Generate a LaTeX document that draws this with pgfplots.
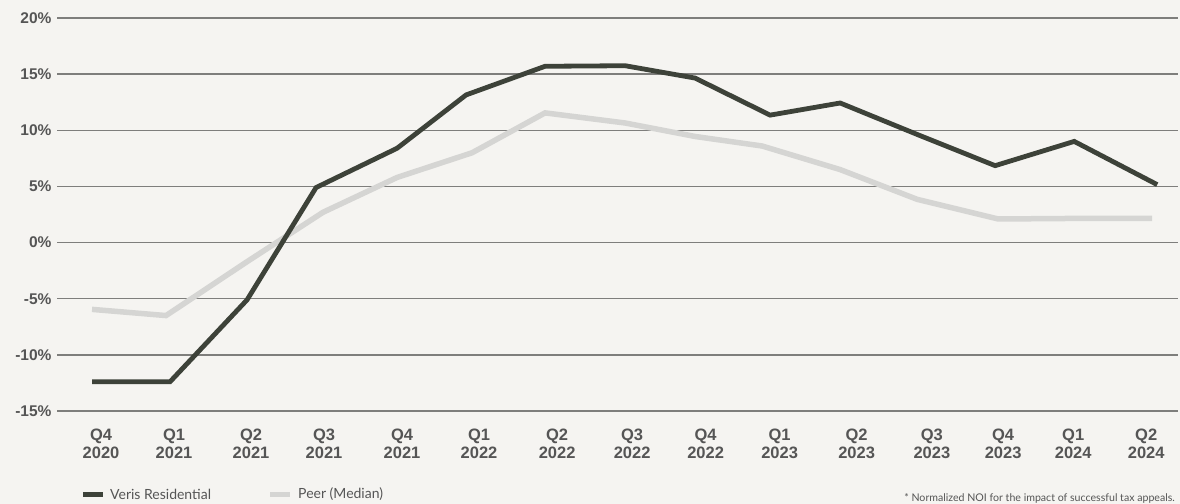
\documentclass[border=0pt]{standalone}
\usepackage{pgfplots}
\pgfplotsset{compat=1.18}
\usepackage{fontspec}
\setmainfont{Lato}
\newfontfamily\tickfont{Liberation Sans}
\definecolor{bg}{HTML}{F5F4F1}
\definecolor{veris}{HTML}{3D4239}
\definecolor{peer}{HTML}{D5D5D3}
\definecolor{gridc}{HTML}{7E7E7C}
\definecolor{txt}{HTML}{555555}
\newcommand\xl[2]{{\tickfont\bfseries\fontsize{16.5bp}{17.5bp}\selectfont\renewcommand\arraystretch{1}\begin{tabular}{@{}c@{}}#1\\#2\end{tabular}}}
\begin{document}
\begin{tikzpicture}
\fill[bg] (0,0) rectangle (1180bp,-504bp);
\path[use as bounding box] (0,0) rectangle (1180bp,-504bp);
\begin{axis}[
  at={(57bp,-18bp)}, anchor=north west,
  scale only axis, width=1121bp, height=393bp,
  xmin=-0.46, xmax=14.26, ymin=-15, ymax=20,
  axis line style={draw=none},
  major tick length=0pt,
  ytick={-15,-10,...,20},
  yticklabel={\pgfmathprintnumber{\tick}\%},
  yticklabel style={font=\tickfont\bfseries\fontsize{15.5bp}{17bp}\selectfont, text=txt, xshift=-2bp},
  /pgf/number format/assume math mode=true,
  ymajorgrids,
  grid style={draw=gridc, line width=1.4bp},
  xtick={0.118,1.077,2.088,3.047,4.071,5.082,6.107,7.092,8.057,9.029,10.040,11.028,11.964,12.884,13.842},
  xticklabels={{\xl{Q4}{2020}},{\xl{Q1}{2021}},{\xl{Q2}{2021}},{\xl{Q3}{2021}},{\xl{Q4}{2021}},{\xl{Q1}{2022}},{\xl{Q2}{2022}},{\xl{Q3}{2022}},{\xl{Q4}{2022}},{\xl{Q1}{2023}},{\xl{Q2}{2023}},{\xl{Q3}{2023}},{\xl{Q4}{2023}},{\xl{Q1}{2024}},{\xl{Q2}{2024}}},
  xticklabel style={text=txt, anchor=north, yshift=-14bp},
  clip=false,
]
\addplot[color=peer, line width=5.5bp] coordinates {
(0,-5.95) (0.972,-6.5) (2.036,-1.7) (3.034,2.7) (4.006,5.8) (4.991,8.0) (5.949,11.55) (7.0,10.65) (7.919,9.45) (8.799,8.6) (9.824,6.5) (10.835,3.85) (11.899,2.1) (12.897,2.15) (13.921,2.15)};
\addplot[color=veris, line width=4.8bp] coordinates {
(0,-12.4) (1.024,-12.4) (2.036,-5.1) (2.942,4.9) (4.006,8.4) (4.912,13.15) (5.949,15.7) (7.0,15.75) (7.919,14.65) (8.904,11.35) (9.824,12.43) (10.835,9.63) (11.859,6.85) (12.897,9.01) (13.987,5.16)};
\end{axis}
% legend
\fill[veris] (83bp,-491.5bp) rectangle (103bp,-496.5bp);
\node[anchor=west, inner sep=0pt, font=\fontsize{14bp}{16bp}\selectfont, text=txt] at (110bp,-494bp) {Veris Residential};
\fill[peer] (270bp,-491.5bp) rectangle (290bp,-496.5bp);
\node[anchor=west, inner sep=0pt, font=\fontsize{14bp}{16bp}\selectfont, text=txt] at (298bp,-494bp) {Peer (Median)};
\node[anchor=base east, font=\fontsize{10.6bp}{12bp}\selectfont, text=txt, inner sep=0pt] at (1175bp,-501bp) {* Normalized NOI for the impact of successful tax appeals.};
\end{tikzpicture}
\end{document}
